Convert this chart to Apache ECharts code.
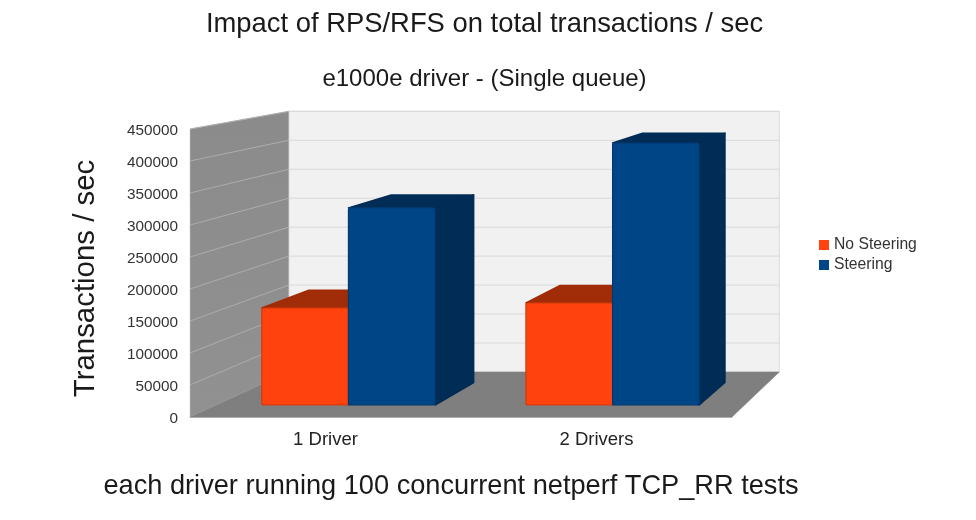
<!DOCTYPE html>
<html><head><meta charset="utf-8">
<style>html,body{margin:0;padding:0;background:#fff}#c{width:976px;height:520px}</style>
<script src="https://cdn.jsdelivr.net/npm/echarts@6/dist/echarts.min.js"></script>
</head><body><div id="c"></div>
<script>
const categories = ['1 Driver', '2 Drivers'];
const noSteering = [155500, 163500];
const steering = [316000, 420000];
const axisTicks = [0, 50000, 100000, 150000, 200000, 250000, 300000, 350000, 400000, 450000];

// simple perspective: points on the chart's front plane recede towards a vanishing point
const VX = 1230, VY = -57, K = 0.095;
const DEPTH_FRONT = 0.267, DEPTH_BACK = 0.765, BAR_SHARE = 0.328;
function proj(p, d) {
  const s = 1 - K * d;
  return [VX + s * (p[0] - VX), VY + s * (p[1] - VY)];
}
function walls(params, api) {
  const c = params.coordSys;
  const L = c.x, R = c.x + c.width, B = c.y + c.height, T = c.y;
  const poly = (pts, style) => ({ type: 'polygon', shape: { points: pts }, style });
  const ch = [
    poly([proj([L, B], 1), proj([R, B], 1), proj([R, T], 1), proj([L, T], 1)], { fill: '#f1f1f1', stroke: '#dcdcdc', lineWidth: 1 }),
    poly([[L, B], proj([L, B], 1), proj([L, T], 1), [L, T]], {
      fill: { type: 'linear', x: 0, y: 0, x2: 0, y2: 1, colorStops: [{ offset: 0, color: '#8b8b8b' }, { offset: 1, color: '#919191' }] },
      stroke: '#c4c4c4', lineWidth: 0.5 }),
    poly([[L, B], [R, B], proj([R, B], 1), proj([L, B], 1)], { fill: '#7f7f7f', stroke: '#7f7f7f', lineWidth: 0.5 })
  ];
  axisTicks.forEach(t => {
    if (t === 0) return;
    const y = api.coord([0, t])[1];
    const a = [L, y], b = proj([L, y], 1), e = proj([R, y], 1);
    ch.push({ type: 'polyline', shape: { points: [a, b] }, style: { stroke: '#adadad', lineWidth: 1, fill: null } });
    ch.push({ type: 'line', shape: { x1: b[0], y1: b[1], x2: e[0], y2: e[1] }, style: { stroke: '#d9d9d9', lineWidth: 1 } });
  });
  return { type: 'group', children: ch };
}
function bar3d(slot, front, top, side, edge) {
  return function (params, api) {
    const p = api.coord([api.value(0), api.value(1)]);
    const base = api.coord([api.value(0), 0]);
    const w = api.size([1, 0])[0] * BAR_SHARE;
    const x0 = p[0] + (slot - 1) * w, x1 = x0 + w;
    const fTL = proj([x0, p[1]], DEPTH_FRONT), fTR = proj([x1, p[1]], DEPTH_FRONT), fBR = proj([x1, base[1]], DEPTH_FRONT);
    const bTL = proj([x0, p[1]], DEPTH_BACK), bTR = proj([x1, p[1]], DEPTH_BACK), bBR = proj([x1, base[1]], DEPTH_BACK);
    const st = c => ({ fill: c, stroke: c, lineWidth: 1.5, lineJoin: 'round' });
    return { type: 'group', children: [
      { type: 'polygon', shape: { points: [fTL, bTL, bTR, fTR] }, style: st(top) },
      { type: 'polygon', shape: { points: [fTR, bTR, bBR, fBR] }, style: st(side) },
      { type: 'rect', shape: { x: fTL[0], y: fTL[1], width: fTR[0] - fTL[0], height: fBR[1] - fTL[1], r: 2 },
        style: { fill: front, stroke: edge, lineWidth: 1.2 } }
    ] };
  };
}
const FONT = '"Liberation Sans", Arial, sans-serif';
const chart = echarts.init(document.getElementById('c'), null, { renderer: 'canvas' });
chart.setOption({
  animation: false,
  backgroundColor: '#fff',
  title: [
    { text: 'Impact of RPS/RFS on total transactions / sec', left: 479.5, top: 6, textAlign: 'center', textStyle: { fontFamily: FONT, fontSize: 27.4, fontWeight: 'normal', color: '#1a1a1a' } },
    { text: 'e1000e driver - (Single queue)', left: 479.5, top: 62, textAlign: 'center', textStyle: { fontFamily: FONT, fontSize: 24, fontWeight: 'normal', color: '#1a1a1a' } },
    { text: 'each driver running 100 concurrent netperf TCP_RR tests', left: 446, top: 468, textAlign: 'center', textStyle: { fontFamily: FONT, fontSize: 27.2, fontWeight: 'normal', color: '#1a1a1a' } }
  ],
  legend: {
    data: ['No Steering', 'Steering'], orient: 'vertical', left: 814, top: 232, icon: 'rect',
    itemWidth: 10, itemHeight: 10, itemGap: 4,
    textStyle: { fontFamily: FONT, fontSize: 15.7, color: '#333' }
  },
  grid: { left: 190, top: 129, width: 542, height: 288, containLabel: false },
  xAxis: {
    type: 'category', data: categories,
    axisLine: { show: true, lineStyle: { color: '#bdbdbd', width: 1 } },
    axisTick: { show: false },
    axisLabel: { margin: 13, fontFamily: FONT, fontSize: 18.5, color: '#222' }
  },
  yAxis: {
    type: 'value', min: 0, max: 450000, interval: 50000,
    name: 'Transactions / sec', nameLocation: 'middle', nameGap: 90, nameRotate: 90,
    nameTextStyle: { fontFamily: FONT, fontSize: 29.4, color: '#1a1a1a', padding: [0, 11, 0, 0] },
    axisLine: { show: false }, axisTick: { show: false }, splitLine: { show: false },
    axisLabel: { margin: 12, fontFamily: FONT, fontSize: 15.3, color: '#333', verticalAlign: 'top', lineHeight: 4, formatter: v => String(v) }
  },
  series: [
    { type: 'custom', name: 'walls', silent: true, z: 1, renderItem: walls, data: [[0, 0]], clip: false },
    { type: 'custom', name: 'No Steering', z: 2, itemStyle: { color: '#ff420e' }, clip: false,
      renderItem: bar3d(0, '#ff420e', '#a02c08', '#a02c08', '#d13a0c'), encode: { x: 0, y: 1 },
      data: noSteering.map((v, i) => [i, v]) },
    { type: 'custom', name: 'Steering', z: 3, itemStyle: { color: '#004586' }, clip: false,
      renderItem: bar3d(1, '#004586', '#002c56', '#002c56', '#003a70'), encode: { x: 0, y: 1 },
      data: steering.map((v, i) => [i, v]) }
  ]
});
</script></body></html>
